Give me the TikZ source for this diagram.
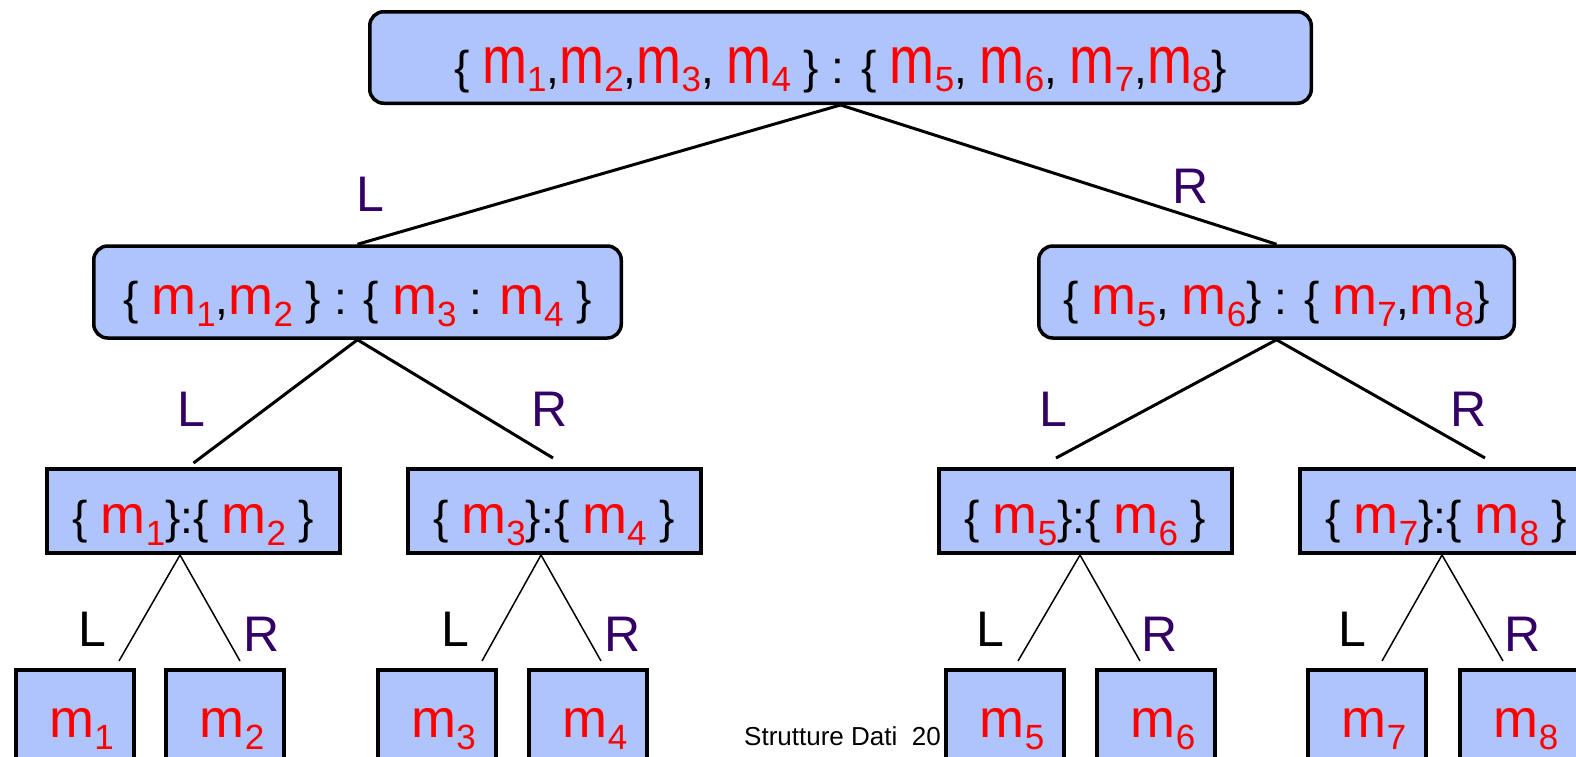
\documentclass[tikz,border=0pt]{standalone}
\usepackage{fontspec}
\setmainfont{Liberation Sans}
\definecolor{nodefill}{RGB}{175,196,250}
\definecolor{lblpurple}{RGB}{51,0,102}
% red element name with subscript index
\newcommand\mi[1]{\textcolor{red}{\fontsize{54}{54}\selectfont m\raisebox{-12pt}{\fontsize{35}{35}\selectfont #1}}}
% same, with a taller m for the root set
\newcommand\mt[1]{\textcolor{red}{\fontsize{54}{54}\selectfont\scalebox{1}[1.25]{m}\raisebox{-8pt}{\fontsize{35}{35}\selectfont #1}}}
% leaf label, set slightly right of centre
\newcommand\ml[1]{\hspace*{14pt}\mi{#1}}
\begin{document}
\begin{tikzpicture}[x=1pt,y=-1pt,
  txt/.style={font=\fontsize{46}{46}\selectfont, inner sep=0pt, text height=44pt, text depth=0pt},
  roundbox/.style={txt, draw, fill=nodefill, line width=3.5pt, rounded corners=14pt, minimum height=92pt},
  setbox/.style={txt, draw, fill=nodefill, line width=4pt, minimum width=293pt, minimum height=84pt},
  leafbox/.style={draw, fill=nodefill, line width=4pt, inner sep=0pt, minimum width=118pt, minimum height=112pt, text height=22pt, text depth=0pt},
  upper/.style={line width=3pt},
  lower/.style={line width=1.5pt},
  lbl/.style={font=\fontsize{50}{50}\selectfont, text=lblpurple, inner sep=0pt},
  lblk/.style={lbl, text=black}]
\useasboundingbox (0,0) rectangle (1576,756);
\clip (0,0) rectangle (1576,756);

% page footer
\node[anchor=base west, inner sep=0pt, font=\fontsize{26}{26}\selectfont] (footer) at (744,745) {Strutture Dati~~20};

% root and second level
\node[roundbox, minimum width=941.5pt, minimum height=91.5pt, text height=51pt] (top) at (840.5,57.5)
  {\{ \mt1,\mt2,\mt3, \mt4 \} : \{ \mt5, \mt6, \mt7,\mt8\}};
\node[roundbox, minimum width=527.5pt] (lmid) at (357.5,292) {\{ \mi1,\mi2 \} : \{ \mi3 : \mi4 \}};
\node[roundbox, minimum width=475.5pt] (rmid) at (1276.5,292) {\{ \mi5, \mi6\} : \{ \mi7,\mi8\}};

% third level
\node[setbox] (b1) at (193.5,511) {\{ \mi1\}:\{ \mi2 \}};
\node[setbox] (b2) at (554,511) {\{ \mi3\}:\{ \mi4 \}};
\node[setbox] (b3) at (1085.5,511) {\{ \mi5\}:\{ \mi6 \}};
\node[setbox] (b4) at (1446.5,511) {\{ \mi7\}:\{ \mi8 \}};

% leaves
\node[leafbox] (m1) at (74.5,726) {\ml1};
\node[leafbox] (m2) at (225,726) {\ml2};
\node[leafbox] (m3) at (436.5,726) {\ml3};
\node[leafbox] (m4) at (588,726) {\ml4};
\node[leafbox] (m5) at (1005,726) {\ml5};
\node[leafbox] (m6) at (1156,726) {\ml6};
\node[leafbox] (m7) at (1367,726) {\ml7};
\node[leafbox] (m8) at (1519,726) {\ml8};

% connectors
\draw[upper] (top.south) -- (lmid.north);
\draw[upper] (top.south) -- (rmid.north);
\draw[upper] (lmid.south) -- ([shift={(0,-4)}]b1.north);
\draw[upper] (lmid.south) -- ([shift={(-1,-9)}]b2.north);
\draw[upper] (rmid.south) -- ([shift={(-29.5,-9)}]b3.north);
\draw[upper] (rmid.south) -- ([shift={(38.5,-9)}]b4.north);

\draw[lower] ([xshift=-13.5pt]b1.south) -- ([shift={(44.5,-7)}]m1.north);
\draw[lower] ([xshift=-13.5pt]b1.south) -- ([shift={(15,-7)}]m2.north);
\draw[lower] ([xshift=-13pt]b2.south) -- ([shift={(45.5,-7)}]m3.north);
\draw[lower] ([xshift=-13pt]b2.south) -- ([shift={(13,-7)}]m4.north);
\draw[lower] ([xshift=-5.5pt]b3.south) -- ([shift={(13,-7)}]m5.north);
\draw[lower] ([xshift=-5.5pt]b3.south) -- ([shift={(-16,-7)}]m6.north);
\draw[lower] ([xshift=-4.5pt]b4.south) -- ([shift={(15,-7)}]m7.north);
\draw[lower] ([xshift=-4.5pt]b4.south) -- ([shift={(-16,-7)}]m8.north);

% branch labels
\node[lbl] (l0) at (370,194) {L};
\node[lbl] (r0) at (1191,186) {R};
\node[lbl] (l1) at (191,409) {L};
\node[lbl] (r1) at (550,409) {R};
\node[lbl] (l2) at (1053,409) {L};
\node[lbl] (r2) at (1469,409) {R};
\node[lblk] (l3) at (92,629) {L};
\node[lbl] (r3) at (262,634) {R};
\node[lblk] (l4) at (455,629) {L};
\node[lbl] (r4) at (623,634) {R};
\node[lblk] (l5) at (990,629) {L};
\node[lbl] (r5) at (1160,634) {R};
\node[lblk] (l6) at (1352,629) {L};
\node[lbl] (r6) at (1523,634) {R};
\end{tikzpicture}
\end{document}
